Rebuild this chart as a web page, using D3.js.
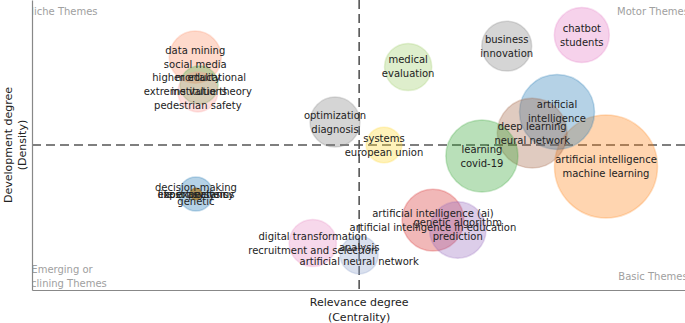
<!DOCTYPE html>
<html>
<head>
<meta charset="utf-8">
<script src="https://cdn.jsdelivr.net/npm/d3@7"></script>
<style>
  html, body { margin: 0; padding: 0; background: #fff; }
  svg { display: block; font-family: "DejaVu Sans", Verdana, sans-serif; }
</style>
</head>
<body>
<svg id="chart" width="685" height="323"></svg>
<script>
// ---- data ----
const clusterLabels = [
  ["artificial intelligence", "machine learning"],
  ["artificial", "intelligence"],
  ["deep learning", "neural network"],
  ["learning", "covid-19"],
  ["artificial intelligence (ai)", "artificial intelligence in education"],
  ["genetic algorithm", "prediction"],
  ["chatbot", "students"],
  ["business", "innovation"],
  ["medical", "evaluation"],
  ["optimization", "diagnosis"],
  ["systems", "european union"],
  ["analysis", "artificial neural network"],
  ["digital transformation", "recruitment and selection"],
  ["data mining", "social media"],
  ["higher educational", "institutions"],
  ["mortality", "extreme value theory", "pedestrian safety"],
  ["decision-making", "genetic"],
  ["expert systems"],
  ["cost analysis"],
  ["life expectancy"]
];
const centrality = [0.879, 0.804, 0.766, 0.689, 0.614, 0.652, 0.842, 0.727, 0.576, 0.464,
                    0.539, 0.501, 0.430, 0.250, 0.256, 0.254, 0.251, 0.251, 0.251, 0.251];
const density    = [0.426, 0.614, 0.541, 0.462, 0.241, 0.207, 0.879, 0.841, 0.769, 0.579,
                    0.500, 0.121, 0.162, 0.803, 0.707, 0.683, 0.331, 0.331, 0.331, 0.331];
const frequency  = [100, 53, 46, 49, 36, 30, 28.5, 23.5, 21, 23.5,
                    12, 13.6, 21, 25.5, 13.6, 15, 11, 1.2, 1.2, 1.2];
const colors     = ["#ff7f0e", "#1f77b4", "#a0603f", "#2ca02c", "#d62728", "#9467bd", "#e377c2", "#7f7f7f", "#9ccc65", "#7f7f7f",
                    "#ffd92f", "#8da0cb", "#e78ac3", "#fc8d62", "#4daf4a", "#fb9a99", "#1f77b4", "#a6761d", "#a6761d", "#a6761d"];
const xMedian = 0.501;
const yMedian = 0.5;
const quadrantLabels = [
  { lines: ["Niche Themes"], cx: 0.046, cy: 0.959 },
  { lines: ["Motor Themes"], cx: 0.951, cy: 0.959 },
  { lines: ["Emerging or", "Declining Themes"], cx: 0.046, cy: 0.048 },
  { lines: ["Basic Themes"], cx: 0.951, cy: 0.048 }
];
const xTitle = ["Relevance degree", "(Centrality)"];
const yTitle = ["Development degree", "(Density)"];

// ---- layout ----
const W = 685, H = 323;
const plot = { left: 32, right: 685, top: 0, bottom: 290 };
const svg = d3.select("#chart");

const x = d3.scaleLinear().domain([0, 1]).range([plot.left, plot.right]);
const y = d3.scaleLinear().domain([0, 1]).range([plot.bottom, plot.top]);
const r = d3.scaleSqrt().domain([0, 100]).range([0, 51.5]);

svg.append("defs").append("clipPath").attr("id", "plotclip")
  .append("rect").attr("x", plot.left).attr("y", plot.top)
  .attr("width", plot.right - plot.left).attr("height", plot.bottom - plot.top);

const data = clusterLabels.map((l, i) => ({
  lines: l, c: centrality[i], d: density[i], f: frequency[i], col: colors[i]
}));

const g = svg.append("g").attr("clip-path", "url(#plotclip)");

// quadrant labels
quadrantLabels.forEach(q => {
  const t = g.append("text")
    .attr("x", x(q.cx)).attr("y", y(q.cy))
    .attr("text-anchor", "middle")
    .attr("font-size", 10)
    .attr("fill", "#a0a0a0");
  const n = q.lines.length;
  q.lines.forEach((s, k) => {
    t.append("tspan").attr("x", x(q.cx))
      .attr("dy", k === 0 ? ((-(n - 1) / 2) * 14 + 3.5) : 14)
      .text(s);
  });
});

// median dashed lines
g.append("line")
  .attr("x1", x(xMedian)).attr("x2", x(xMedian))
  .attr("y1", plot.top).attr("y2", plot.bottom)
  .attr("stroke", "#555").attr("stroke-width", 1.6).attr("stroke-dasharray", "9,5");
g.append("line")
  .attr("x1", plot.left).attr("x2", plot.right)
  .attr("y1", y(yMedian)).attr("y2", y(yMedian))
  .attr("stroke", "#555").attr("stroke-width", 1.6).attr("stroke-dasharray", "9,5");

// bubbles
g.selectAll("circle.bubble").data(data).enter().append("circle")
  .attr("class", "bubble")
  .attr("cx", d => x(d.c)).attr("cy", d => y(d.d)).attr("r", d => r(d.f))
  .attr("fill", d => d.col).attr("fill-opacity", 0.33)
  .attr("stroke", d => d.col).attr("stroke-opacity", 0.25).attr("stroke-width", 1.5);

// labels
const lab = g.selectAll("text.lab").data(data).enter().append("text")
  .attr("class", "lab")
  .attr("text-anchor", "middle")
  .attr("font-size", 10)
  .attr("fill", "#222")
  .attr("x", d => x(d.c)).attr("y", d => y(d.d));
lab.each(function(d) {
  const n = d.lines.length;
  d.lines.forEach((s, k) => {
    d3.select(this).append("tspan")
      .attr("x", x(d.c))
      .attr("dy", k === 0 ? ((-(n - 1) / 2) * 14 + 3.5) : 14)
      .text(s);
  });
});

// axes (lines only, no ticks)
svg.append("g").attr("transform", `translate(${plot.left},0)`)
  .call(d3.axisLeft(y).tickValues([]).tickSizeOuter(0))
  .call(a => a.select(".domain").attr("stroke", "#888").attr("stroke-width", 1.2));
svg.append("g").attr("transform", `translate(0,${plot.bottom})`)
  .call(d3.axisBottom(x).tickValues([]).tickSizeOuter(0))
  .call(a => a.select(".domain").attr("stroke", "#888").attr("stroke-width", 1.2));

// axis titles
const xc = (plot.left + plot.right) / 2;
const xt = svg.append("text").attr("text-anchor", "middle").attr("font-size", 11).attr("fill", "#222");
xTitle.forEach((s, k) => {
  xt.append("tspan").attr("x", x(xMedian)).attr("y", 306 + k * 15).text(s);
});
const yt = svg.append("text").attr("text-anchor", "middle").attr("font-size", 11).attr("fill", "#222")
  .attr("transform", `translate(0,${y(yMedian)}) rotate(-90)`);
yTitle.forEach((s, k) => {
  yt.append("tspan").attr("x", 0).attr("y", 12 + k * 14).text(s);
});
</script>
</body>
</html>
